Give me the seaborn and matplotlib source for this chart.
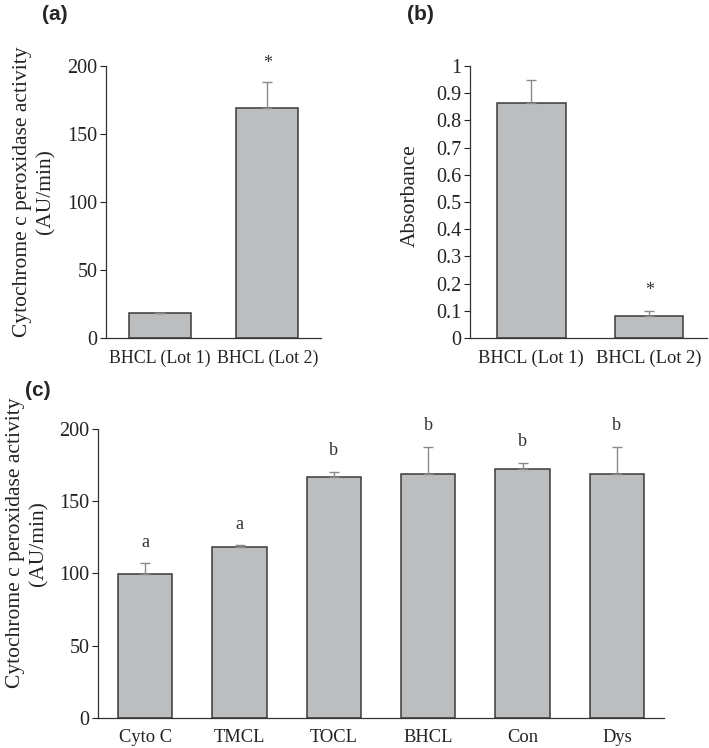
import pandas as pd
import seaborn as sns
import matplotlib.pyplot as plt

# veri
lots = ['BHCL (Lot 1)', 'BHCL (Lot 2)']
activity_lot = [18.4, 169.0]
activity_lot_err = [0.3, 19.0]
absorbance = [0.864, 0.082]
absorbance_err = [0.085, 0.019]
lot_marks = ['', '*']
abs_marks = ['', '*']

lipids = ['Cyto C', 'TMCL', 'TOCL', 'BHCL', 'Con', 'Dys']
activity = [99.6, 118.5, 166.8, 168.9, 172.1, 168.9]
activity_err = [7.6, 1.0, 3.6, 18.8, 4.4, 18.8]
groups = ['a', 'a', 'b', 'b', 'b', 'b']

sns.set_theme(style='ticks')
plt.rcParams['font.family'] = ['Liberation Serif', 'DejaVu Serif']

bar_color = '#bcbdbf'
edge_color = '#3a3a3a'
err_color = '#8a8a8a'

fig = plt.figure(figsize=(7.09, 7.48), dpi=100)
ax_a = fig.add_axes([106 / 709, 0.548, 215 / 709, 0.3638])
ax_b = fig.add_axes([470 / 709, 0.548, 237 / 709, 0.3638])
ax_c = fig.add_axes([98 / 709, 0.0401, 566 / 709, 0.3864])


def draw_panel(ax, cats, vals, errs, marks, ylim, yticks, yticklabels, ylabel, width, xlim,
               mark_off, fs_mark, label_xy, xsize):
    df = pd.DataFrame({'cat': cats, 'val': vals})
    sns.barplot(data=df, x='cat', y='val', ax=ax, color=bar_color, width=width,
                edgecolor=edge_color, linewidth=1.1, saturation=1, errorbar=None)
    x = list(range(len(cats)))
    ax.errorbar(x, vals, yerr=[[0] * len(errs), errs], fmt='none', ecolor=err_color,
                elinewidth=1.0, capsize=3.5, capthick=1.0, zorder=1)
    for xi, v, e, m in zip(x, vals, errs, marks):
        if m:
            ax.text(xi, v + e + mark_off, m, ha='center', va='center', fontsize=fs_mark,
                    color='#333333', clip_on=False)
    ax.set_ylim(*ylim)
    ax.set_xlim(*xlim)
    ax.set_yticks(yticks)
    ax.set_yticklabels(yticklabels)
    ax.set_xlabel('')
    ax.set_ylabel(ylabel, fontsize=15.5, color='#222222', linespacing=1.3)
    ax.yaxis.set_label_coords(*label_xy)
    ax.tick_params(axis='y', direction='out', length=4, width=0.8, labelsize=14.5,
                   colors='#222222', pad=2)
    ax.tick_params(axis='x', length=0, labelsize=xsize, colors='#222222', pad=8)
    for s in ['top', 'right']:
        ax.spines[s].set_visible(False)
    for s in ['left', 'bottom']:
        ax.spines[s].set_color('#333333')
        ax.spines[s].set_linewidth(0.9)


draw_panel(ax_a, lots, activity_lot, activity_lot_err, lot_marks, (0, 200),
           [0, 50, 100, 150, 200], ['0', '50', '100', '150', '200'],
           'Cytochrome c peroxidase activity\n(AU/min)', 0.58, (-0.5, 1.5), 14, 13,
           (-0.235, 0.537), 12.9)

draw_panel(ax_b, lots, absorbance, absorbance_err, abs_marks, (0, 1),
           [i / 10 for i in range(11)], ['0'] + ['0.%d' % i for i in range(1, 10)] + ['1'],
           'Absorbance', 0.58, (-0.52, 1.49), 0.075, 13, (-0.21, 0.522), 13.3)

draw_panel(ax_c, lipids, activity, activity_err, groups, (0, 200),
           [0, 50, 100, 150, 200], ['0', '50', '100', '150', '200'],
           'Cytochrome c peroxidase activity\n(AU/min)', 0.573, (-0.5, 5.5), 14.5, 13,
           (-0.088, 0.605), 13.3)

fig.text(55 / 709, 1 - 15 / 748, '(a)', fontsize=15, fontweight='bold', family='Liberation Sans',
         ha='center', va='center')
fig.text(420 / 709, 1 - 15 / 748, '(b)', fontsize=15, fontweight='bold', family='Liberation Sans',
         ha='center', va='center')
fig.text(38 / 709, 1 - 390 / 748, '(c)', fontsize=15, fontweight='bold', family='Liberation Sans',
         ha='center', va='center')

fig.savefig('out.png', dpi=100)
